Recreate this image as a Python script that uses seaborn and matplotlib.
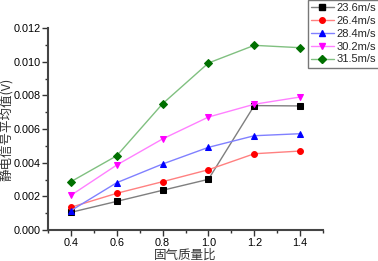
import matplotlib
matplotlib.use("Agg")
import matplotlib.pyplot as plt
import seaborn as sns
import pandas as pd
from matplotlib.ticker import MultipleLocator
from matplotlib.lines import Line2D

ratios = [0.4, 0.6, 0.8, 1.0, 1.2, 1.4]
series_names = ["23.6m/s", "26.4m/s", "28.4m/s", "30.2m/s", "31.5m/s"]
v236 = [0.00105, 0.00170, 0.00236, 0.00301, 0.00739, 0.00737]
v264 = [0.00135, 0.00218, 0.00287, 0.00358, 0.00453, 0.00469]
v284 = [0.00115, 0.00281, 0.00392, 0.00491, 0.00560, 0.00572]
v302 = [0.00206, 0.00386, 0.00541, 0.00671, 0.00747, 0.00790]
v315 = [0.00287, 0.00441, 0.00750, 0.00992, 0.01097, 0.01083]
values = [v236, v264, v284, v302, v315]

line_colors = ["#7f7f7f", "#ff8080", "#8080ff", "#ff80ff", "#80c080"]
marker_colors = ["#000000", "#ff0000", "#0000ff", "#ff00ff", "#007000"]
markers = ["s", "o", "^", "v", "D"]

rows = []
for name, vals in zip(series_names, values):
    for r, v in zip(ratios, vals):
        rows.append({"ratio": r, "value": v, "series": name})
df = pd.DataFrame(rows)

sns.set_style("ticks")
plt.rcParams['font.family'] = ['Liberation Sans', 'Noto Sans CJK SC', 'DejaVu Sans']

fig = plt.figure(figsize=(3.78, 2.61), dpi=100)
ax = fig.add_axes([48/378, 31/261, 275/378, 202/261])

sns.lineplot(data=df, x="ratio", y="value", hue="series", style="series",
             palette=line_colors, markers=markers, dashes=False,
             markersize=4.2, linewidth=1.0, ax=ax, legend=False)

for ln, mc in zip(ax.lines, marker_colors):
    ln.set_markerfacecolor(mc)
    ln.set_markeredgecolor(mc)

ax.set_xlim(0.3, 1.5)
ax.set_ylim(0, 0.012)
ax.xaxis.set_minor_locator(MultipleLocator(0.1))
ax.yaxis.set_minor_locator(MultipleLocator(0.001))
ax.set_xticks(ratios)
ax.set_xticklabels([f"{r:.1f}" for r in ratios])
yt = [0.0, 0.002, 0.004, 0.006, 0.008, 0.010, 0.012]
ax.set_yticks(yt)
ax.set_yticklabels([f"{y:.3f}" for y in yt])
ax.tick_params(axis='both', which='major', direction='out', length=4, width=1,
               labelsize=7.8, colors='#333333', labelcolor='black', pad=1.5)
ax.tick_params(axis='both', which='minor', direction='out', length=2, width=1,
               colors='#333333')
for s in ["left", "bottom"]:
    ax.spines[s].set_linewidth(1.5)
    ax.spines[s].set_color('#444444')
sns.despine(ax=ax)

ax.set_xlabel("固气质量比", fontsize=9, family=['Noto Sans CJK SC'], color='#333333')
ax.set_ylabel("静电信号平均值(V)", fontsize=9, family=['Noto Sans CJK SC'], color='#333333')
ax.xaxis.set_label_coords(0.5, -0.095)
ax.yaxis.set_label_coords(-0.128, 0.5)

handles = [Line2D([0], [0], color=lc, marker=m, markerfacecolor=mc, markeredgecolor=mc,
                  markersize=4, linewidth=1.0)
           for lc, mc, m in zip(line_colors, marker_colors, markers)]
leg = fig.legend(handles, series_names, loc='upper left', bbox_to_anchor=(308/378, 1.0),
                 bbox_transform=fig.transFigure, fontsize=8, frameon=True, fancybox=False,
                 borderaxespad=0, labelspacing=0.25, handlelength=2.0, handletextpad=0.3,
                 borderpad=0.3)
leg.get_frame().set_edgecolor('#555555')
leg.get_frame().set_linewidth(1.0)

fig.savefig("out.png", dpi=100)
